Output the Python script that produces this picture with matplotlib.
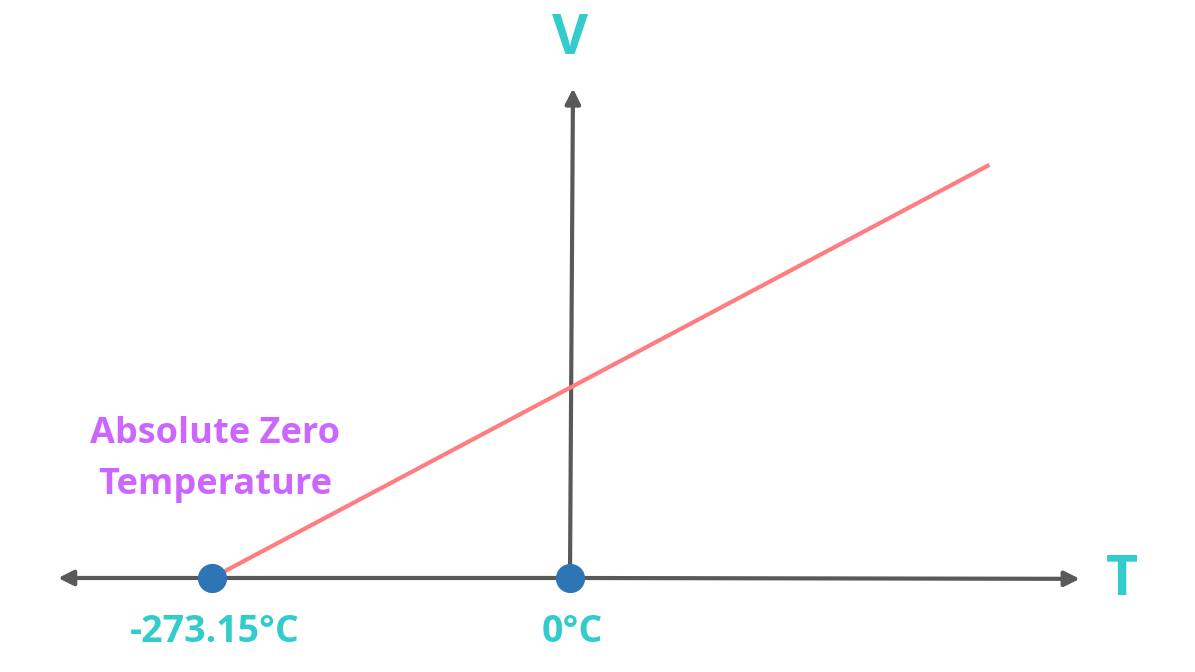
import matplotlib.pyplot as plt

# Charles's law sketch: volume vs temperature
line_T = [-273.15, 320]     # °C
line_V = [0, 48.6]          # arbitrary volume units
point_T = [-273.15, 0]
point_V = [0, 0]
tick_labels = ['-273.15°C', '0°C']

axis_grey = '#595959'
teal = '#33CCCC'
purple = '#CC66FF'

plt.rcParams['font.family'] = ['Open Sans', 'DejaVu Sans']

fig = plt.figure(figsize=(11.95, 6.72), dpi=100)
ax = fig.add_axes([0, 0, 1, 1])
ax.set_xlim(-434.9, 476.9)
ax.set_ylim(-11.06, 68)
ax.axis('off')

arrow = dict(arrowstyle='-|>,head_length=0.9,head_width=0.45',
             color=axis_grey, lw=3, shrinkA=0, shrinkB=0)
# horizontal T axis, both directions
ax.annotate('', xy=(389, -0.1), xytext=(0, 0), arrowprops=arrow)
ax.annotate('', xy=(-390.6, 0), xytext=(0, 0), arrowprops=arrow)
# vertical V axis
ax.annotate('', xy=(2.3, 57.6), xytext=(0, 0), arrowprops=arrow)

ax.plot(line_T, line_V, color='#FF7C80', lw=3, solid_capstyle='butt', zorder=3)
ax.plot(point_T, point_V, 'o', color='#2E75B6', markersize=20, zorder=4)

ax.text(0, 63.3, 'V', color=teal, fontsize=40, fontweight='bold',
        ha='center', va='center')
ax.text(421.2, -0.24, 'T', color=teal, fontsize=40, fontweight='bold',
        ha='center', va='center')
for t, lab in zip(point_T, tick_labels):
    ax.text(t + 2, -6.35, lab, color=teal, fontsize=27, fontweight='bold',
            ha='center', va='center')

ax.text(-271, 13.9, 'Absolute Zero\nTemperature', color=purple, fontsize=26,
        fontweight='bold', ha='center', va='center', linespacing=1.55)

fig.savefig('out.png', dpi=100)
